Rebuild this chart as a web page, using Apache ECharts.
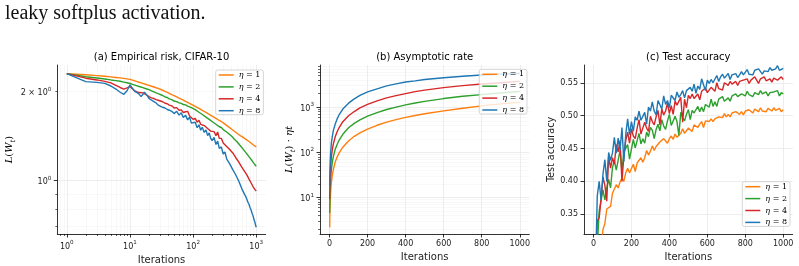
<!DOCTYPE html>
<html>
<head>
<meta charset="utf-8">
<script src="https://cdn.jsdelivr.net/npm/echarts@6/dist/echarts.min.js"></script>
<style>
  html, body { margin: 0; padding: 0; background: #fff; }
  #chart { width: 799px; height: 266px; }
</style>
</head>
<body>
<div id="chart"></div>
<script>
// series labels / colours (matplotlib tab10)
const etaNames = ["η = 1", "η = 2", "η = 4", "η = 8"]
const etaColors = ["#ff7f0e", "#2ca02c", "#d62728", "#1f77b4"]

// (a) empirical risk, log-log
const itersA = [1, 2, 3, 4, 5, 6, 7, 8, 9, 10, 11, 12, 13, 14, 15, 16, 17, 18, 19, 20,
  22, 24, 26, 28, 30, 33, 36, 39, 42, 46, 50, 55, 60, 65, 70, 76, 82, 88, 94, 100,
  108, 116, 124, 132, 140, 150, 160, 170, 180, 190, 200, 215, 230, 245, 260, 280, 300, 320, 340, 360,
  380, 400, 425, 450, 475, 500, 530, 560, 590, 620, 650, 680, 710, 740, 770, 800, 830, 860, 890, 920,
  950, 975, 1000]
const lossEta1 = [2.30, 2.28, 2.265, 2.253, 2.242, 2.233, 2.225, 2.217, 2.208, 2.20,
  2.186, 2.173, 2.162, 2.151, 2.141, 2.132, 2.123, 2.114, 2.107, 2.099,
  2.085, 2.073, 2.061, 2.05, 2.04, 2.021, 2.003, 1.987, 1.973, 1.954,
  1.938, 1.919, 1.901, 1.885, 1.871, 1.854, 1.839, 1.825, 1.812, 1.80,
  1.784, 1.768, 1.754, 1.741, 1.728, 1.714, 1.70, 1.687, 1.675, 1.663,
  1.652, 1.637, 1.623, 1.609, 1.597, 1.584, 1.563, 1.552, 1.532, 1.523,
  1.505, 1.498, 1.478, 1.469, 1.451, 1.443, 1.426, 1.42, 1.405, 1.40,
  1.385, 1.381, 1.367, 1.364, 1.351, 1.348, 1.336, 1.333, 1.322, 1.32,
  1.309, 1.306, 1.30]
const lossEta2 = [2.30, 2.245, 2.223, 2.207, 2.19, 2.178, 2.167, 2.154, 2.142, 2.13,
  2.116, 2.104, 2.092, 2.081, 2.071, 2.062, 2.053, 2.045, 2.037, 2.03,
  2.012, 1.996, 1.981, 1.968, 1.955, 1.94, 1.918, 1.91, 1.889, 1.879,
  1.858, 1.849, 1.831, 1.826, 1.808, 1.803, 1.786, 1.782, 1.765, 1.762,
  1.738, 1.727, 1.703, 1.697, 1.673, 1.666, 1.64, 1.635, 1.611, 1.607,
  1.585, 1.577, 1.551, 1.545, 1.521, 1.512, 1.488, 1.478, 1.46, 1.446,
  1.432, 1.41, 1.402, 1.379, 1.373, 1.351, 1.339, 1.312, 1.303, 1.278,
  1.27, 1.246, 1.24, 1.218, 1.212, 1.191, 1.187, 1.167, 1.163, 1.144,
  1.14, 1.125, 1.118]
const lossEta4 = [2.30, 2.22, 2.19, 2.165, 2.14, 2.10, 2.065, 2.04, 2.06, 2.08,
  2.04, 2.01, 1.995, 1.985, 1.975, 1.98, 1.99, 1.955, 1.935, 1.923,
  1.905, 1.895, 1.878, 1.87, 1.85, 1.848, 1.826, 1.82, 1.80, 1.79,
  1.76, 1.765, 1.73, 1.735, 1.70, 1.71, 1.715, 1.655, 1.66, 1.612,
  1.625, 1.575, 1.60, 1.55, 1.56, 1.535, 1.525, 1.50, 1.52, 1.47,
  1.45, 1.465, 1.42, 1.46, 1.39, 1.39, 1.34, 1.35, 1.305, 1.315,
  1.275, 1.28, 1.24, 1.24, 1.195, 1.19, 1.155, 1.15, 1.11, 1.108,
  1.076, 1.068, 1.046, 1.034, 1.012, 0.999, 0.982, 0.969, 0.955, 0.948,
  0.934, 0.93, 0.923]
const lossEta8 = [2.30, 2.161, 2.149, 2.133, 2.089, 2.04, 1.99, 1.958, 2.014, 2.105,
  2.051, 2.0, 1.983, 1.96, 1.923, 1.94, 1.99, 2.01, 1.93, 1.898,
  1.87, 1.85, 1.83, 1.80, 1.779, 1.77, 1.76, 1.74, 1.73, 1.715,
  1.685, 1.715, 1.665, 1.695, 1.635, 1.665, 1.605, 1.64, 1.565, 1.55,
  1.575, 1.51, 1.545, 1.48, 1.515, 1.455, 1.485, 1.42, 1.45, 1.39,
  1.365, 1.40, 1.325, 1.36, 1.285, 1.30, 1.23, 1.25, 1.185, 1.195,
  1.14, 1.145, 1.09, 1.09, 1.045, 1.045, 0.995, 0.985, 0.94, 0.935,
  0.90, 0.885, 0.865, 0.845, 0.83, 0.81, 0.795, 0.776, 0.76, 0.74,
  0.725, 0.708, 0.696]

// (b) asymptotic rate L(W_t)·ηt, log y
const itersB = [1, 2, 3, 5, 7, 10, 15, 20, 30, 40, 50, 70, 100, 130, 160, 200, 250, 300, 350, 400, 450, 500, 600, 700, 800, 900, 1000]
const rateEta1 = [2.2, 4.56, 6.8, 11.2, 15.6, 22, 32.1, 42, 61.2, 79.5, 97, 131, 180, 228, 272, 330, 400, 470, 532, 598, 660, 720, 835, 955, 1077, 1190, 1300]
const rateEta2 = [4.6, 9.0, 13.3, 21.9, 30.3, 42.6, 62.1, 81.2, 117.3, 149.6, 186, 253, 352, 440, 526, 636, 765, 894, 1010, 1131, 1245, 1355, 1560, 1750, 1912, 2085, 2236]
const rateEta4 = [9.2, 17.8, 26.3, 42.8, 57.8, 83.2, 118.5, 153.8, 222, 288, 352, 479, 648, 805, 973, 1160, 1390, 1614, 1810, 2010, 2225, 2400, 2730, 3010, 3270, 3500, 3750]
const rateEta8 = [18.4, 34.6, 51.6, 83.6, 112, 168, 231, 304, 427, 554, 676, 913, 1235, 1540, 1840, 2195, 2560, 2970, 3290, 3620, 3850, 4130, 4520, 4860, 5180, 5420, 5600]

// (c) test accuracy
const itersC = [0, 10, 20, 30, 40, 50, 60, 70, 80, 90, 100, 110, 120, 130, 140, 150, 160, 170, 180, 190,
  200, 210, 220, 230, 240, 250, 260, 270, 280, 290, 300, 310, 320, 330, 340, 350, 360, 370, 380, 390,
  400, 410, 420, 430, 440, 450, 460, 470, 480, 490, 500, 510, 520, 530, 540, 550, 560, 570, 580, 590,
  600, 610, 620, 630, 640, 650, 660, 670, 680, 690, 700, 710, 720, 730, 740, 750, 760, 770, 780, 790,
  800, 810, 820, 830, 840, 850, 860, 870, 880, 890, 900, 910, 920, 930, 940, 950, 960, 970, 980, 990, 1000]
const accEta1 = [0.100, 0.160, 0.220, 0.265, 0.298, 0.327, 0.336, 0.358, 0.360, 0.362,
  0.382, 0.382, 0.395, 0.390, 0.399, 0.405, 0.400, 0.413, 0.420, 0.413,
  0.413, 0.426, 0.415, 0.428, 0.429, 0.436, 0.429, 0.436, 0.447, 0.440,
  0.446, 0.454, 0.447, 0.453, 0.450, 0.460, 0.457, 0.465, 0.464, 0.458,
  0.465, 0.469, 0.464, 0.472, 0.467, 0.465, 0.473, 0.480, 0.473, 0.477,
  0.481, 0.478, 0.476, 0.486, 0.483, 0.482, 0.487, 0.491, 0.482, 0.492,
  0.489, 0.491, 0.495, 0.491, 0.495, 0.492, 0.498, 0.497, 0.497, 0.503,
  0.498, 0.502, 0.498, 0.504, 0.503, 0.506, 0.503, 0.502, 0.506, 0.501,
  0.507, 0.506, 0.509, 0.506, 0.504, 0.510, 0.509, 0.506, 0.512, 0.507,
  0.509, 0.506, 0.511, 0.510, 0.507, 0.512, 0.508, 0.509, 0.511, 0.506, 0.509]
const accEta2 = [0.100, 0.200, 0.300, 0.355, 0.357, 0.387, 0.372, 0.390, 0.403, 0.390,
  0.421, 0.432, 0.417, 0.417, 0.447, 0.416, 0.445, 0.443, 0.456, 0.434,
  0.449, 0.464, 0.451, 0.462, 0.473, 0.457, 0.465, 0.458, 0.475, 0.468,
  0.482, 0.478, 0.465, 0.479, 0.487, 0.477, 0.494, 0.484, 0.479, 0.492,
  0.502, 0.485, 0.492, 0.499, 0.491, 0.470, 0.505, 0.497, 0.492, 0.502,
  0.509, 0.494, 0.508, 0.504, 0.507, 0.514, 0.506, 0.513, 0.506, 0.517,
  0.514, 0.513, 0.525, 0.514, 0.521, 0.514, 0.525, 0.522, 0.529, 0.522,
  0.521, 0.527, 0.522, 0.530, 0.529, 0.533, 0.529, 0.526, 0.533, 0.532,
  0.530, 0.537, 0.532, 0.533, 0.529, 0.535, 0.535, 0.532, 0.538, 0.533,
  0.534, 0.536, 0.530, 0.535, 0.534, 0.536, 0.533, 0.538, 0.530, 0.535, 0.533]
const accEta4 = [0.100, 0.250, 0.340, 0.345, 0.373, 0.407, 0.394, 0.370, 0.438, 0.420,
  0.436, 0.426, 0.456, 0.445, 0.462, 0.400, 0.439, 0.462, 0.475, 0.458,
  0.480, 0.469, 0.465, 0.481, 0.494, 0.472, 0.481, 0.490, 0.481, 0.476,
  0.499, 0.491, 0.486, 0.498, 0.508, 0.486, 0.510, 0.501, 0.507, 0.519,
  0.503, 0.515, 0.502, 0.522, 0.516, 0.514, 0.528, 0.490, 0.525, 0.512,
  0.531, 0.526, 0.533, 0.526, 0.526, 0.533, 0.524, 0.537, 0.535, 0.542,
  0.535, 0.532, 0.543, 0.542, 0.537, 0.550, 0.541, 0.544, 0.539, 0.550,
  0.549, 0.546, 0.552, 0.548, 0.549, 0.552, 0.546, 0.552, 0.551, 0.554,
  0.551, 0.556, 0.549, 0.554, 0.551, 0.559, 0.554, 0.549, 0.556, 0.553,
  0.559, 0.553, 0.555, 0.556, 0.551, 0.557, 0.560, 0.554, 0.553, 0.559, 0.555]
const accEta8 = [0.100, 0.260, 0.378, 0.400, 0.372, 0.411, 0.433, 0.400, 0.444, 0.432,
  0.443, 0.467, 0.443, 0.466, 0.447, 0.482, 0.430, 0.471, 0.495, 0.471,
  0.491, 0.476, 0.498, 0.493, 0.507, 0.493, 0.491, 0.505, 0.487, 0.513,
  0.507, 0.521, 0.507, 0.501, 0.523, 0.521, 0.510, 0.530, 0.517, 0.523,
  0.512, 0.531, 0.529, 0.523, 0.536, 0.528, 0.532, 0.538, 0.527, 0.538,
  0.537, 0.543, 0.537, 0.548, 0.534, 0.545, 0.540, 0.556, 0.547, 0.538,
  0.554, 0.549, 0.555, 0.550, 0.553, 0.561, 0.552, 0.559, 0.563, 0.557,
  0.557, 0.564, 0.555, 0.562, 0.561, 0.564, 0.558, 0.562, 0.567, 0.562,
  0.565, 0.570, 0.563, 0.566, 0.562, 0.569, 0.566, 0.571, 0.569, 0.563,
  0.568, 0.571, 0.567, 0.573, 0.569, 0.566, 0.571, 0.576, 0.569, 0.571, 0.572]

// tick positions
const ticksAx = [1, 10, 100, 1000]
const minorAx = [0.8, 0.9, 2, 3, 4, 5, 6, 7, 8, 9, 20, 30, 40, 50, 60, 70, 80, 90, 200, 300, 400, 500, 600, 700, 800, 900]
const ticksAy = [1]
const labelsAy = [1, 2]
const minorAy = [0.7, 0.8, 0.9, 2]
const ticksBy = [10, 100, 1000]
const minorBy = [2, 3, 4, 5, 6, 7, 8, 9, 20, 30, 40, 50, 60, 70, 80, 90, 200, 300, 400, 500, 600, 700, 800, 900,
  2000, 3000, 4000, 5000, 6000, 7000, 8000]
const ticksIter = [0, 200, 400, 600, 800, 1000]
const ticksCy = [0.35, 0.40, 0.45, 0.50, 0.55]

const TXT = "#222"
const GRID_MAJOR = "#e8e8e8"
const GRID_MINOR = "#f4f4f4"

const tickRich = {
  b: { fontSize: 8, fontFamily: "DejaVu Sans", color: TXT, lineHeight: 11, verticalAlign: "bottom" },
  s: { fontSize: 5.6, fontFamily: "DejaVu Sans", color: TXT, lineHeight: 6, verticalAlign: "top" },
}
const mathRich = {
  i: { fontFamily: "DejaVu Serif", fontStyle: "italic", fontSize: 10, color: "#000", lineHeight: 14 },
  r: { fontFamily: "DejaVu Serif", fontSize: 10, color: "#000", lineHeight: 14 },
  sub: { fontFamily: "DejaVu Serif", fontStyle: "italic", fontSize: 7, color: "#000", lineHeight: 7, verticalAlign: "bottom" },
}

const pow10 = (v) => "{b|10}{s|" + Math.round(Math.log10(v)) + "}"

function mainAxis(gridIndex, type, min, max, ticks, labels, formatter, extra) {
  return Object.assign({
    type, gridIndex, min, max,
    axisLine: { show: true, onZero: false, lineStyle: { color: "#000", width: 0.8 } },
    axisTick: { show: true, length: 3.5, customValues: ticks, lineStyle: { color: "#000", width: 0.8 } },
    axisLabel: {
      show: true, customValues: labels, margin: 6, formatter, rich: tickRich,
      fontSize: 8, color: TXT, fontFamily: "DejaVu Sans", hideOverlap: false,
    },
    splitLine: { show: true, lineStyle: { color: GRID_MAJOR, width: 0.8 } },
    z: 1,
  }, type === "log" ? { logBase: 10 } : {}, extra || {})
}

function minorAxis(gridIndex, min, max, ticks, position) {
  return {
    type: "log", logBase: 10, gridIndex, min, max, position,
    axisLine: { show: false, onZero: false },
    axisTick: { show: true, length: 2, customValues: ticks, lineStyle: { color: "#000", width: 0.6 } },
    axisLabel: { show: false },
    splitLine: { show: true, lineStyle: { color: GRID_MINOR, width: 0.6 } },
    z: 0,
  }
}

const iterName = {
  name: "Iterations", nameLocation: "middle", nameGap: 16,
  nameTextStyle: { fontSize: 10, color: TXT, fontFamily: "DejaVu Sans" },
}

const xAxis = [
  mainAxis(0, "log", 0.708, 1412, ticksAx, ticksAx, pow10, Object.assign({ position: "bottom" }, iterName)),
  minorAxis(0, 0.708, 1412, minorAx, "bottom"),
  mainAxis(1, "value", -50, 1050, ticksIter, ticksIter, (v) => String(v), Object.assign({ position: "bottom" }, iterName)),
  mainAxis(2, "value", -50, 1050, ticksIter, ticksIter, (v) => String(v), Object.assign({ position: "bottom" }, iterName)),
]

const yAxis = [
  mainAxis(0, "log", 0.66, 2.46, ticksAy, labelsAy,
    (v) => (Math.abs(v - 2) < 1e-6 ? "{b|2 × 10}{s|0}" : pow10(v)), {
      position: "left",
      name: "{i|L}{r|(}{i|W}{sub|t}{r|)}", nameLocation: "middle", nameRotate: 90, nameGap: 27,
      nameTextStyle: { rich: mathRich },
    }),
  minorAxis(0, 0.66, 2.46, minorAy, "left"),
  mainAxis(1, "log", 1.57, 8630, ticksBy, ticksBy, pow10, {
    position: "left",
    name: "{i|L}{r|(}{i|W}{sub|t}{r|) · }{i|ηt}", nameLocation: "middle", nameRotate: 90, nameGap: 16,
    nameTextStyle: { rich: mathRich },
  }),
  minorAxis(1, 1.57, 8630, minorBy, "left"),
  mainAxis(2, "value", 0.32, 0.577, ticksCy, ticksCy, (v) => v.toFixed(2), {
    position: "left",
    name: "Test accuracy", nameLocation: "middle", nameRotate: 90, nameGap: 25,
    nameTextStyle: { fontSize: 9.6, color: TXT, fontFamily: "DejaVu Sans" },
  }),
]

const zip = (xs, ys) => xs.map((x, i) => [x, ys[i]])
const lossA = [lossEta1, lossEta2, lossEta4, lossEta8]
const rateB = [rateEta1, rateEta2, rateEta4, rateEta8]
const accC = [accEta1, accEta2, accEta4, accEta8]

function lineSeries(name, color, data, xi, yi) {
  return {
    type: "line", name, data, xAxisIndex: xi, yAxisIndex: yi,
    symbol: "none", showSymbol: false, clip: true, color,
    lineStyle: { width: 1.4, color }, emphasis: { disabled: true },
  }
}

const series = []
etaNames.forEach((n, k) => series.push(lineSeries(n, etaColors[k], zip(itersA, lossA[k]), 0, 0)))
etaNames.forEach((n, k) => series.push(lineSeries(n, etaColors[k], zip(itersB, rateB[k]), 2, 2)))
etaNames.forEach((n, k) => series.push(lineSeries(n, etaColors[k], zip(itersC, accC[k]), 3, 4)))

const legendBase = {
  orient: "vertical", icon: "rect", itemWidth: 15, itemHeight: 1.5, itemGap: 3.9,
  padding: [1, 3, 0, 3], backgroundColor: "rgba(255,255,255,0.8)",
  borderColor: "#cccccc", borderWidth: 0.8, borderRadius: 2, selectedMode: false,
  data: etaNames,
  formatter: (n) => "{i|η}{r|" + n.slice(1) + "}",
  textStyle: {
    fontSize: 8, lineHeight: 8, color: "#000", fontFamily: "DejaVu Serif",
    rich: {
      i: { fontFamily: "DejaVu Serif", fontStyle: "italic", fontSize: 8, lineHeight: 8 },
      r: { fontFamily: "DejaVu Serif", fontSize: 8, lineHeight: 8 },
    },
  },
}

const titleStyle = { fontSize: 10, fontWeight: "normal", color: "#000", fontFamily: "DejaVu Sans" }

const chart = echarts.init(document.getElementById("chart"), null, { renderer: "canvas" })
chart.setOption({
  animation: false,
  textStyle: { fontFamily: "DejaVu Sans" },
  graphic: [{
    type: "text", left: 5, top: 4,
    style: { text: "leaky softplus activation.", font: '20px "Liberation Serif"', fill: "#111" },
  }],
  title: [
    { text: "(a) Empirical risk, CIFAR-10", left: 161.5, top: 52, textAlign: "center", padding: 0, textStyle: titleStyle },
    { text: "(b) Asymptotic rate", left: 424.7, top: 52, textAlign: "center", padding: 0, textStyle: titleStyle },
    { text: "(c) Test accuracy", left: 688.3, top: 52, textAlign: "center", padding: 0, textStyle: titleStyle },
  ],
  grid: [
    { left: 57.3, top: 65, width: 208.4, height: 169, outerBoundsMode: "none" },
    { left: 320, top: 65, width: 209.3, height: 169, outerBoundsMode: "none" },
    { left: 584, top: 65, width: 208.7, height: 169, outerBoundsMode: "none" },
  ],
  legend: [
    Object.assign({ left: 215.7, top: 70 }, legendBase),
    Object.assign({ left: 479.3, top: 69.3 }, legendBase),
    Object.assign({ left: 742.3, top: 181.7 }, legendBase),
  ],
  xAxis,
  yAxis,
  series,
})
</script>
</body>
</html>
